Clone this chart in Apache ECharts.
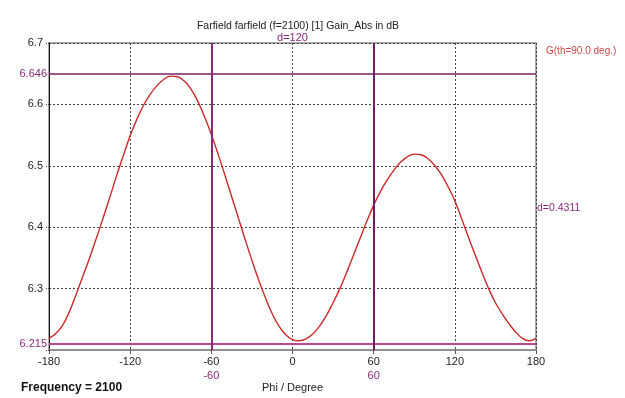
<!DOCTYPE html>
<html>
<head>
<meta charset="utf-8">
<script src="https://cdn.jsdelivr.net/npm/echarts@6/dist/echarts.min.js"></script>
<style>html,body{margin:0;padding:0;background:#fff;}#c{width:625px;height:398px;}</style>
</head>
<body>
<div id="c"></div>
<script>
// Phi (degrees)
const phi = [-180,-175,-170,-165,-160,-155,-150,-145,-140,-135,-130,-125,-120,-115,-110,-105,-100,-95,-90,-85,-80,-75,-70,-65,-60,-55,-50,-45,-40,-35,-30,-25,-20,-15,-10,-5,0,5,10,15,20,25,30,35,40,45,50,55,60,65,70,75,80,85,90,95,100,105,110,115,120,125,130,135,140,145,150,155,160,165,170,175,180];
// Gain_Abs in dB
const gain = [6.219,6.227,6.240,6.262,6.290,6.320,6.350,6.382,6.415,6.449,6.484,6.517,6.549,6.576,6.599,6.617,6.631,6.641,6.646,6.645,6.638,6.625,6.605,6.580,6.551,6.519,6.485,6.450,6.415,6.380,6.346,6.314,6.285,6.259,6.239,6.225,6.217,6.215,6.218,6.226,6.239,6.256,6.277,6.300,6.326,6.354,6.382,6.410,6.436,6.458,6.477,6.493,6.506,6.515,6.519,6.518,6.512,6.501,6.486,6.466,6.443,6.414,6.384,6.355,6.327,6.300,6.277,6.259,6.243,6.229,6.219,6.215,6.219];
const yMarkers = [6.646, 6.215];
const xMarkers = [-60, 60];
const deltaLabels = ['d=120', 'd=0.4311'];
const seriesName = 'G(th=90.0 deg.)';
const titleText = 'Farfield farfield (f=2100) [1] Gain_Abs in dB';
const freqText = 'Frequency = 2100';
const xName = 'Phi / Degree';

const FONT = 'Liberation Sans';
const PURPLE = '#8a2a7c';
const chart = echarts.init(document.getElementById('c'), null, {renderer: 'canvas'});

chart.setOption({
  animation: false,
  backgroundColor: '#fff',
  textStyle: {fontFamily: FONT},
  title: {
    text: titleText, left: 293, top: 16, textAlign: 'center',
    textStyle: {fontSize: 10.5, fontWeight: 'normal', color: '#222', fontFamily: FONT}
  },
  legend: {
    data: [{name: seriesName, icon: 'none'}],
    left: 541, top: 44, itemWidth: 0, itemGap: 0, padding: 0,
    textStyle: {color: '#d04848', fontSize: 10, fontFamily: FONT}
  },
  graphic: [{
    type: 'text', left: 21, top: 382,
    style: {text: freqText, font: 'bold 12px ' + FONT, fill: '#111'}
  }],
  grid: {left: 49, right: 89, top: 43, bottom: 44, show: true, borderColor: '#909090', borderWidth: 1.5},
  xAxis: {
    type: 'value', min: -180, max: 180, interval: 60,
    name: xName, nameLocation: 'middle', nameGap: 32,
    nameTextStyle: {color: '#222', fontSize: 11, fontFamily: FONT},
    axisLine: {show: true, onZero: false, lineStyle: {color: '#909090', width: 1.5}},
    axisTick: {show: true, length: 4, lineStyle: {color: '#555'}},
    axisLabel: {color: '#222', fontSize: 11, margin: 6, fontFamily: FONT},
    splitLine: {show: true, lineStyle: {type: [2, 2], color: '#444', width: 1}}
  },
  yAxis: {
    type: 'value', min: 6.2, max: 6.7, interval: 0.1,
    axisLine: {show: true, onZero: false, lineStyle: {color: '#111', width: 1}},
    axisTick: {show: true, length: 4, lineStyle: {color: '#444', type: [1, 1]}},
    axisLabel: {
      color: '#222', fontSize: 11, margin: 6, fontFamily: FONT, padding: [0, 0, 6, 0],
      formatter: v => (Math.abs(v - 6.2) < 1e-6 ? '' : v.toFixed(1))
    },
    splitLine: {show: true, lineStyle: {type: [2, 2], color: '#444', width: 1}}
  },
  series: [{
    name: seriesName, type: 'line', smooth: 0.4, symbol: 'none',
    data: phi.map((p, i) => [p, gain[i]]),
    lineStyle: {color: '#cc2a2a', width: 1.4},
    itemStyle: {color: '#cc2a2a'},
    z: 3,
    markLine: {
      silent: true, symbol: 'none', animation: false,
      data: [
        {yAxis: yMarkers[0], lineStyle: {color: '#7a2166', width: 1.5, type: 'solid'},
         label: {position: 'start', formatter: String(yMarkers[0]), color: PURPLE, fontSize: 11, distance: 2}},
        {yAxis: yMarkers[1], lineStyle: {color: '#b84890', width: 2, type: 'solid'},
         label: {position: 'start', formatter: String(yMarkers[1]), color: PURPLE, fontSize: 11, distance: 2}},
        {xAxis: xMarkers[0], lineStyle: {color: '#8a2a7c', width: 2, type: 'solid'},
         label: {position: 'start', formatter: String(xMarkers[0]), color: PURPLE, fontSize: 11, distance: 20}},
        {xAxis: xMarkers[1], lineStyle: {color: '#6e1f63', width: 2, type: 'solid'},
         label: {position: 'start', formatter: String(xMarkers[1]), color: PURPLE, fontSize: 11, distance: 20}}
      ]
    },
    markPoint: {
      silent: true, symbol: 'circle', symbolSize: 0, animation: false,
      data: [
        {coord: [(xMarkers[0] + xMarkers[1]) / 2, 6.7],
         label: {show: true, formatter: deltaLabels[0], color: PURPLE, fontSize: 11, position: 'top', distance: 0}},
        {coord: [180, (yMarkers[0] + yMarkers[1]) / 2],
         label: {show: true, formatter: deltaLabels[1], color: PURPLE, fontSize: 10.5, position: 'right', distance: 1}}
      ]
    }
  }]
});
</script>
</body>
</html>
